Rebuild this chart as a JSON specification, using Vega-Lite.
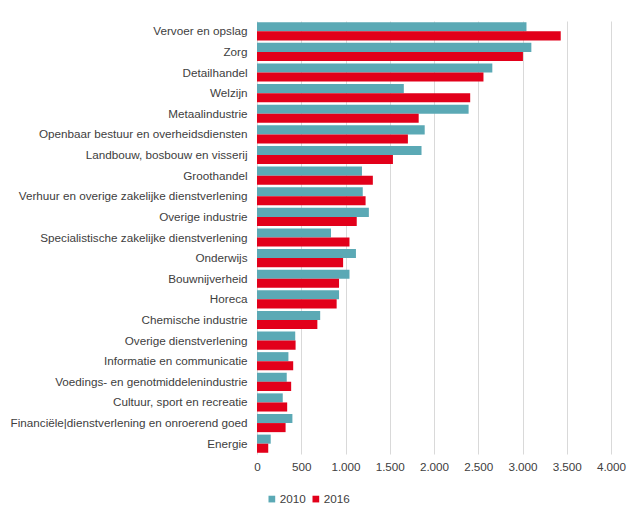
{
  "$schema": "https://vega.github.io/schema/vega-lite/v6.json",
  "autosize": "none",
  "width": 354,
  "height": 433,
  "padding": {"left": 257, "top": 21, "right": 16, "bottom": 53},
  "background": "white",
  "config": {
    "view": {"stroke": null},
    "font": "Liberation Sans",
    "axis": {"labelFont": "Liberation Sans", "labelColor": "#404040"},
    "legend": {"labelFont": "Liberation Sans", "labelColor": "#404040"}
  },
  "data": {
    "values": [
      {"sector": "Vervoer en opslag", "jaar": "2010", "waarde": 3045},
      {"sector": "Vervoer en opslag", "jaar": "2016", "waarde": 3432},
      {"sector": "Zorg", "jaar": "2010", "waarde": 3100},
      {"sector": "Zorg", "jaar": "2016", "waarde": 3005},
      {"sector": "Detailhandel", "jaar": "2010", "waarde": 2659},
      {"sector": "Detailhandel", "jaar": "2016", "waarde": 2559},
      {"sector": "Welzijn", "jaar": "2010", "waarde": 1659},
      {"sector": "Welzijn", "jaar": "2016", "waarde": 2409},
      {"sector": "Metaalindustrie", "jaar": "2010", "waarde": 2391},
      {"sector": "Metaalindustrie", "jaar": "2016", "waarde": 1827},
      {"sector": "Openbaar bestuur en overheidsdiensten", "jaar": "2010", "waarde": 1895},
      {"sector": "Openbaar bestuur en overheidsdiensten", "jaar": "2016", "waarde": 1705},
      {"sector": "Landbouw, bosbouw en visserij", "jaar": "2010", "waarde": 1859},
      {"sector": "Landbouw, bosbouw en visserij", "jaar": "2016", "waarde": 1536},
      {"sector": "Groothandel", "jaar": "2010", "waarde": 1186},
      {"sector": "Groothandel", "jaar": "2016", "waarde": 1309},
      {"sector": "Verhuur en overige zakelijke dienstverlening", "jaar": "2010", "waarde": 1195},
      {"sector": "Verhuur en overige zakelijke dienstverlening", "jaar": "2016", "waarde": 1227},
      {"sector": "Overige industrie", "jaar": "2010", "waarde": 1264},
      {"sector": "Overige industrie", "jaar": "2016", "waarde": 1127},
      {"sector": "Specialistische zakelijke dienstverlening", "jaar": "2010", "waarde": 836},
      {"sector": "Specialistische zakelijke dienstverlening", "jaar": "2016", "waarde": 1045},
      {"sector": "Onderwijs", "jaar": "2010", "waarde": 1118},
      {"sector": "Onderwijs", "jaar": "2016", "waarde": 973},
      {"sector": "Bouwnijverheid", "jaar": "2010", "waarde": 1045},
      {"sector": "Bouwnijverheid", "jaar": "2016", "waarde": 927},
      {"sector": "Horeca", "jaar": "2010", "waarde": 927},
      {"sector": "Horeca", "jaar": "2016", "waarde": 900},
      {"sector": "Chemische industrie", "jaar": "2010", "waarde": 714},
      {"sector": "Chemische industrie", "jaar": "2016", "waarde": 682},
      {"sector": "Overige dienstverlening", "jaar": "2010", "waarde": 432},
      {"sector": "Overige dienstverlening", "jaar": "2016", "waarde": 436},
      {"sector": "Informatie en communicatie", "jaar": "2010", "waarde": 355},
      {"sector": "Informatie en communicatie", "jaar": "2016", "waarde": 409},
      {"sector": "Voedings- en genotmiddelenindustrie", "jaar": "2010", "waarde": 336},
      {"sector": "Voedings- en genotmiddelenindustrie", "jaar": "2016", "waarde": 386},
      {"sector": "Cultuur, sport en recreatie", "jaar": "2010", "waarde": 291},
      {"sector": "Cultuur, sport en recreatie", "jaar": "2016", "waarde": 341},
      {"sector": "Financiële|dienstverlening en onroerend goed", "jaar": "2010", "waarde": 400},
      {"sector": "Financiële|dienstverlening en onroerend goed", "jaar": "2016", "waarde": 323},
      {"sector": "Energie", "jaar": "2010", "waarde": 155},
      {"sector": "Energie", "jaar": "2016", "waarde": 127}
    ]
  },
  "mark": {"type": "bar"},
  "encoding": {
    "y": {
      "field": "sector",
      "type": "nominal",
      "sort": null,
      "scale": {"paddingInner": 0.12, "paddingOuter": 0.06},
      "axis": {
        "title": null,
        "domain": false,
        "ticks": false,
        "labelFontSize": 11.7,
        "labelPadding": 10,
        "labelLimit": 0
      }
    },
    "yOffset": {"field": "jaar", "type": "nominal", "scale": {"paddingInner": 0}},
    "x": {
      "field": "waarde",
      "type": "quantitative",
      "scale": {"domain": [0, 4000], "nice": false},
      "axis": {
        "title": null,
        "values": [0, 500, 1000, 1500, 2000, 2500, 3000, 3500, 4000],
        "labelExpr": "replace(format(datum.value, ','), ',', '.')",
        "domain": false,
        "ticks": false,
        "labelFlush": false,
        "labelOverlap": false,
        "labelBound": false,
        "gridColor": "#d9d9d9",
        "labelFontSize": 11.7,
        "labelPadding": 7
      }
    },
    "color": {
      "field": "jaar",
      "type": "nominal",
      "scale": {"domain": ["2010", "2016"], "range": ["#5BA9B5", "#E2001A"]},
      "legend": {
        "title": null,
        "orient": "none",
        "legendX": 9,
        "legendY": 472,
        "direction": "horizontal",
        "symbolType": "square",
        "symbolSize": 45,
        "symbolStrokeWidth": 0,
        "labelFontSize": 11.7,
        "labelOffset": 2,
        "columnPadding": 4
      }
    }
  }
}
